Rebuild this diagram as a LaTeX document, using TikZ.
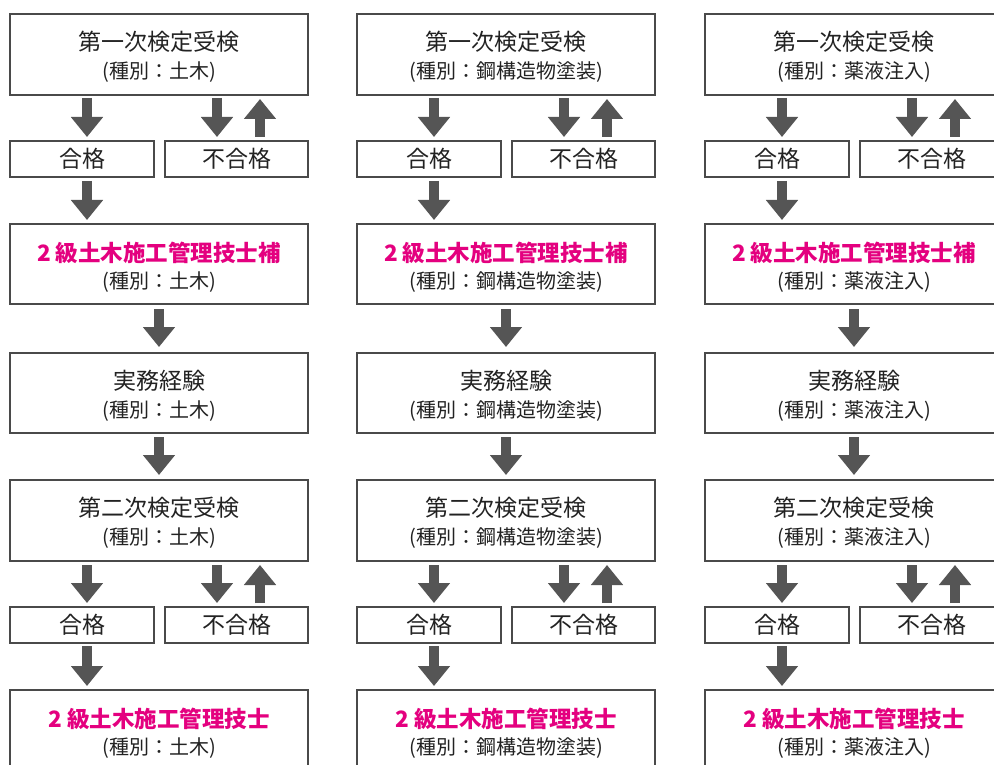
\documentclass[tikz,border=0pt]{standalone}
\usepackage{fontspec}
\setmainfont{Noto Sans CJK JP}
\usetikzlibrary{arrows.meta}
\definecolor{mag}{HTML}{E4007F}
\definecolor{agray}{HTML}{555555}
\definecolor{bgray}{HTML}{4A4A4A}
\definecolor{tblack}{HTML}{222222}
\tikzset{
  boxbase/.style={draw=bgray, line width=1.1pt, anchor=north west, inner sep=0pt, outer sep=0pt},
  bigbox/.style={boxbase, minimum width=298pt, minimum height=80pt},
  passbox/.style={boxbase, minimum width=144pt, minimum height=36pt, text=tblack, font=\fontsize{23}{23}\selectfont},
  failbox/.style={boxbase, minimum width=143pt, minimum height=36pt, text=tblack, font=\fontsize{23}{23}\selectfont},
  ttl/.style={inner sep=0pt, text=tblack, font=\fontsize{23}{23}\selectfont},
  pinkttl/.style={inner sep=0pt, text=mag, font=\bfseries\fontsize{22.5}{22.5}\selectfont},
  subttl/.style={inner sep=0pt, text=tblack, font=\fontsize{20}{20}\selectfont},
  arr/.style={draw=agray, line width=10pt, -{Triangle[width=31pt,length=20pt]}},
}
\newcommand\flowcol[3]{%
  % row 1
  \node[bigbox, minimum height=81pt] (#2a) at (#1,14) {};
  \node[ttl] (#2at) at ([yshift=-28pt]#2a.north) {第一次検定受検};
  \node[subttl] (#2as) at ([yshift=-58pt]#2a.north) {(種別：#3)};
  % row 2
  \node[passbox] (#2b) at (#1,141) {合格};
  \node[failbox] (#2c) at (#1+155,141) {不合格};
  % row 3
  \node[bigbox] (#2d) at (#1,224) {};
  \node[pinkttl] (#2dt) at ([yshift=-29pt]#2d.north) {2 級土木施工管理技士補};
  \node[subttl] (#2ds) at ([yshift=-58pt]#2d.north) {(種別：#3)};
  % row 4
  \node[bigbox] (#2e) at (#1,353) {};
  \node[ttl] (#2et) at ([yshift=-28pt]#2e.north) {実務経験};
  \node[subttl] (#2es) at ([yshift=-58pt]#2e.north) {(種別：#3)};
  % row 5
  \node[bigbox, minimum height=81pt] (#2f) at (#1,480) {};
  \node[ttl] (#2ft) at ([yshift=-28pt]#2f.north) {第二次検定受検};
  \node[subttl] (#2fs) at ([yshift=-58pt]#2f.north) {(種別：#3)};
  % row 6
  \node[passbox] (#2g) at (#1,607) {合格};
  \node[failbox] (#2h) at (#1+155,607) {不合格};
  % row 7
  \node[bigbox, minimum height=81pt] (#2i) at (#1,690) {};
  \node[pinkttl] (#2it) at ([yshift=-29pt]#2i.north) {2 級土木施工管理技士};
  \node[subttl] (#2is) at ([yshift=-58pt]#2i.north) {(種別：#3)};
  % arrows
  \draw[arr] ([xshift=77pt,yshift=-3pt]#2a.south west) -- ([xshift=77pt,yshift=4pt]#2b.north west);
  \draw[arr] ([xshift=207pt,yshift=-3pt]#2a.south west) -- ([xshift=52pt,yshift=4pt]#2c.north west);
  \draw[arr] ([xshift=95pt,yshift=4pt]#2c.north west) -- ([xshift=250pt,yshift=-4pt]#2a.south west);
  \draw[arr] ([xshift=77pt,yshift=-4pt]#2b.south west) -- ([xshift=77pt,yshift=4pt]#2d.north west);
  \draw[arr] ([yshift=-5pt]#2d.south) -- ([yshift=6pt]#2e.north);
  \draw[arr] ([yshift=-4pt]#2e.south) -- ([yshift=5pt]#2f.north);
  \draw[arr] ([xshift=77pt,yshift=-4pt]#2f.south west) -- ([xshift=77pt,yshift=4pt]#2g.north west);
  \draw[arr] ([xshift=207pt,yshift=-4pt]#2f.south west) -- ([xshift=52pt,yshift=4pt]#2h.north west);
  \draw[arr] ([xshift=95pt,yshift=4pt]#2h.north west) -- ([xshift=250pt,yshift=-4pt]#2f.south west);
  \draw[arr] ([xshift=77pt,yshift=-3pt]#2g.south west) -- ([xshift=77pt,yshift=4pt]#2i.north west);
}
\begin{document}
\begin{tikzpicture}[x=1pt,y=-1pt]
  \useasboundingbox (0,0) rectangle (994,765);
  \clip (0,0) rectangle (994,765);
  \fill[white] (0,0) rectangle (994,765);
  \flowcol{10}{A}{土木}
  \flowcol{357}{B}{鋼構造物塗装}
  \flowcol{705}{C}{薬液注入}
\end{tikzpicture}
\end{document}
